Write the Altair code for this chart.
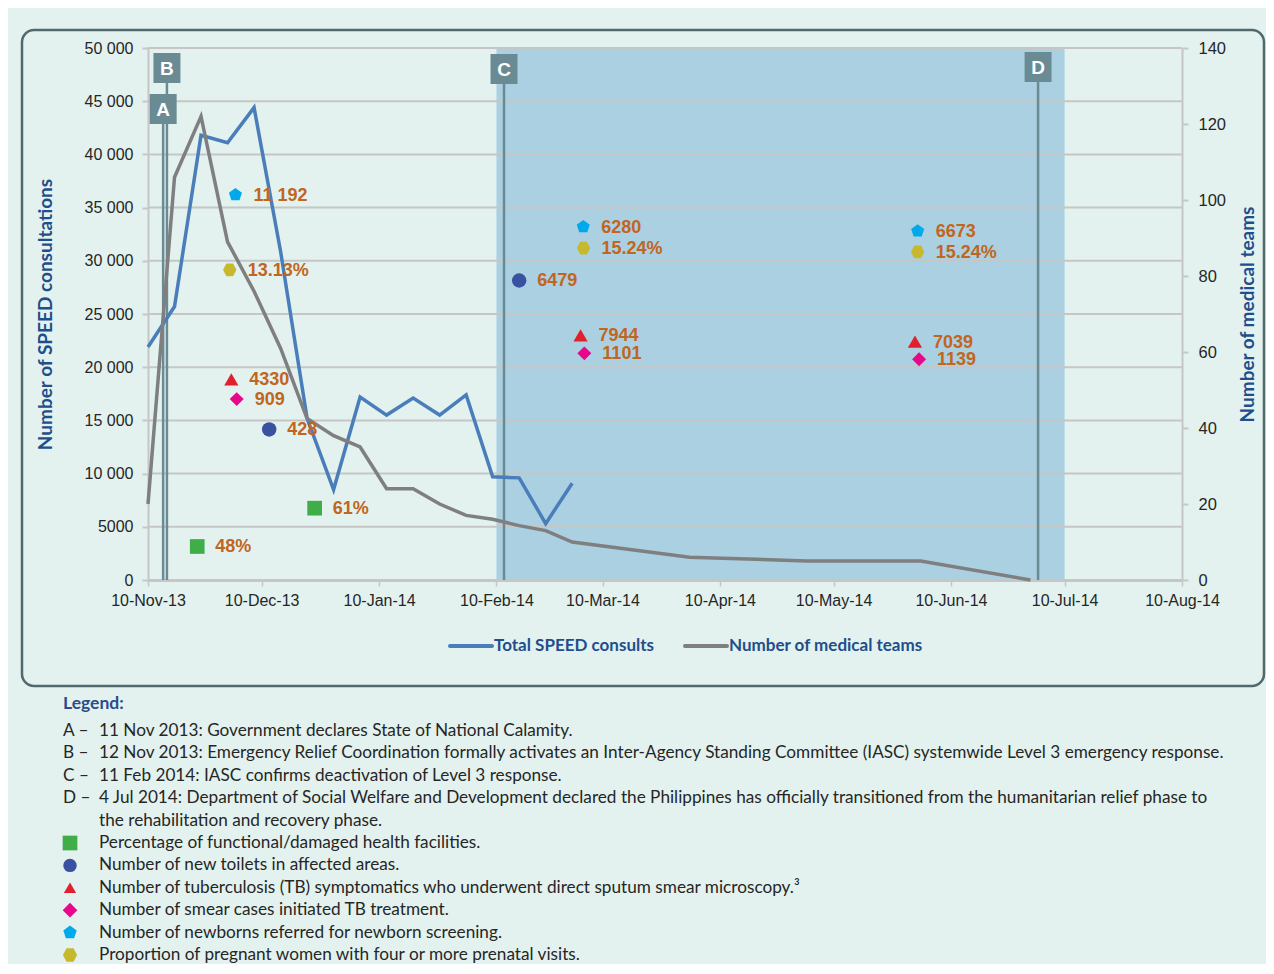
import altair as alt
import pandas as pd

# ------------------------------------------------------------------ data
week_dates = ["2013-11-10", "2013-11-17", "2013-11-24", "2013-12-01", "2013-12-08",
              "2013-12-15", "2013-12-22", "2013-12-29", "2014-01-05", "2014-01-12",
              "2014-01-19", "2014-01-26", "2014-02-02", "2014-02-09", "2014-02-16",
              "2014-02-23", "2014-03-02"]
speed_consults = [21900, 25700, 41800, 41100, 44400, 30900, 15200, 8500, 17200, 15500,
                  17100, 15500, 17400, 9700, 9600, 5300, 9100]

team_dates = week_dates + ["2014-04-02", "2014-05-03", "2014-06-02", "2014-07-01"]
medical_teams = [20, 106, 122, 89, 76, 61, 42.5, 38, 35, 24, 24, 20, 17, 16, 14.3, 13, 10,
                 6, 5, 5, 0]

event_letters = ["A", "B", "C", "D"]
event_dates = ["2013-11-14", "2013-11-15", "2014-02-12", "2014-07-03"]

phase_start = ["2014-02-10"]
phase_end = ["2014-07-10"]

marker_kinds = ["facilities", "facilities", "toilets", "tb_tested", "tb_treated", "newborns", "prenatal",
                "toilets", "tb_tested", "tb_treated", "newborns", "prenatal",
                "tb_tested", "tb_treated", "newborns", "prenatal"]
marker_dates = ["2013-11-23T00", "2013-12-24T00", "2013-12-12T00", "2013-12-02T00", "2013-12-03T10",
                "2013-12-03T02", "2013-12-01T14",
                "2014-02-16T00", "2014-03-04T05", "2014-03-05T05", "2014-03-04T22", "2014-03-05T00",
                "2014-05-31T12", "2014-06-01T14", "2014-06-01T05", "2014-06-01T05"]
marker_values = [3150, 6750, 14150, 18850, 17000, 36200, 29150,
                 28150, 23000, 21300, 33200, 31200,
                 22400, 20750, 32800, 30850]
marker_labels = ["48%", "61%", "428", "4330", "909", "11 192", "13.13%",
                 "6479", "7944", "1101", "6280", "15.24%",
                 "7039", "1139", "6673", "15.24%"]

left_ticks = [0, 5000, 10000, 15000, 20000, 25000, 30000, 35000, 40000, 45000, 50000]
right_ticks = [0, 20, 40, 60, 80, 100, 120, 140]
x_tick_dates = ["2013-11-10", "2013-12-10", "2014-01-10", "2014-02-10", "2014-03-10",
                "2014-04-10", "2014-05-10", "2014-06-10", "2014-07-10", "2014-08-10"]
x_domain = ["2013-11-10", "2014-08-10"]

series_names = ["Total SPEED consults", "Number of medical teams"]
left_title = "Number of SPEED consultations"
right_title = "Number of medical teams"

legend_heading = "Legend:"
legend_keys = ["A –", "B –", "C –", "D –", "", "", "", "", "", "", ""]
legend_symbols = ["", "", "", "", "", "facilities", "toilets", "tb_tested", "tb_treated", "newborns", "prenatal"]
legend_texts = [
    "11 Nov 2013: Government declares State of National Calamity.",
    "12 Nov 2013: Emergency Relief Coordination formally activates an Inter-Agency Standing Committee (IASC) systemwide Level 3 emergency response.",
    "11 Feb 2014: IASC confirms deactivation of Level 3 response.",
    "4 Jul 2014: Department of Social Welfare and Development  declared the Philippines has officially transitioned from the humanitarian relief phase to",
    "the rehabilitation and recovery phase.",
    "Percentage of functional/damaged health facilities.",
    "Number of new toilets in affected areas.",
    "Number of tuberculosis (TB) symptomatics who underwent direct sputum smear microscopy.³",
    "Number of smear cases initiated TB treatment.",
    "Number of newborns referred for newborn screening.",
    "Proportion of pregnant women with four or more prenatal visits.",
]

# ------------------------------------------------------------------ styles
W, H = 1034, 532
BG = "#e3f2ee"
FONT_AX = "Liberation Sans"
FONT_TXT = "Lato"
TITLE_BLUE = "#1f4e8c"
EVENT_COL = "#6a8b93"
SHADE_COL = "#abd0e2"
GRID_COL = "#c6c6c6"
LABEL_COL = "#c0661e"
TEXT_COL = "#262626"

PENTAGON = "M0,-1L0.951,-0.309L0.588,0.809L-0.588,0.809L-0.951,-0.309Z"
HEXAGON = "M-1,0L-0.5,-0.95L0.5,-0.95L1,0L0.5,0.95L-0.5,0.95Z"
BOX = "M-0.9,-1L0.9,-1L0.9,1L-0.9,1Z"

kind_order = ["facilities", "toilets", "tb_tested", "tb_treated", "newborns", "prenatal"]
kind_shapes = ["square", "circle", "triangle-up", "diamond", PENTAGON, HEXAGON]
kind_colors = ["#3fae49", "#3a50a0", "#e0202c", "#e8078a", "#00a9e9", "#c6b92e"]
kind_sizes = [216, 180, 150, 215, 196, 200]


def iso(d):
    if len(d) == 10:
        return d + "T00:00:00Z"
    return d + ":00:00Z"


def dt(d):
    y, m, dd = (int(v) for v in d[:10].split("-"))
    return alt.DateTime(year=y, month=m, date=dd, utc=True)


def left_scale():
    return alt.Scale(domain=[0, 50000], nice=False, zero=True)


x_scale = alt.Scale(type="utc", domain=[dt(d) for d in x_domain], nice=False)
y_right = alt.Scale(domain=[0, 140], nice=False, zero=True)

speed_df = pd.DataFrame({"date": [iso(d) for d in week_dates], "consults": speed_consults})
teams_df = pd.DataFrame({"date": [iso(d) for d in team_dates], "teams": medical_teams})
event_df = pd.DataFrame({"date": [iso(d) for d in event_dates], "letter": event_letters})
phase_df = pd.DataFrame({"start": [iso(d) for d in phase_start], "end": [iso(d) for d in phase_end]})
marker_df = pd.DataFrame({"date": [iso(d) for d in marker_dates], "value": marker_values,
                          "label": marker_labels, "kind": marker_kinds})
grid_df = pd.DataFrame({"tick": left_ticks})
one = pd.DataFrame({"k": [0]})

left_axis = alt.Axis(
    orient="left", values=left_ticks,
    labelExpr="datum.value >= 10000 ? replace(format(datum.value, ','), ',', ' ') : format(datum.value, 'd')",
    title=left_title, grid=False,
    domainColor=GRID_COL, domainWidth=2, tickColor=GRID_COL, tickWidth=2, tickSize=6,
    labelFont=FONT_AX, labelFontSize=16, labelColor=TEXT_COL, labelPadding=9,
    titleFont=FONT_TXT, titleFontSize=19, titleFontWeight="bold", titleColor=TITLE_BLUE,
    titleAngle=270, titleX=-103, titleY=266, titleAlign="center", titleBaseline="middle",
)
right_axis = alt.Axis(
    orient="right", values=right_ticks, title=right_title, grid=False,
    domainColor=GRID_COL, domainWidth=2, tickColor=GRID_COL, tickWidth=2, tickSize=6,
    labelFont=FONT_AX, labelFontSize=16.5, labelColor=TEXT_COL, labelPadding=10,
    titleFont=FONT_TXT, titleFontSize=19, titleFontWeight="bold", titleColor=TITLE_BLUE,
    titleAngle=270, titleX=65, titleY=266, titleAlign="center", titleBaseline="middle",
)
# the same x axis definition is given to every layer so that the shared axis merges cleanly
x_axis = alt.Axis(
    orient="bottom", values=[dt(d) for d in x_tick_dates], format="%d-%b-%y", title=None, grid=False,
    domainColor=GRID_COL, domainWidth=3, tickColor=GRID_COL, tickWidth=1.5, tickSize=6,
    labelFont=FONT_AX, labelFontSize=16, labelColor=TEXT_COL, labelPadding=6,
    labelFlush=False, labelOverlap=False, labelBound=False,
)


def X(field):
    return alt.X(f"{field}:T", scale=x_scale, axis=x_axis)


layers = []

# panel border
layers.append(alt.Chart(one).mark_rect(
    fillOpacity=0, stroke="#51696e", strokeWidth=2.5, cornerRadius=12
).encode(x=alt.value(-126), x2=alt.value(1116), y=alt.value(-18), y2=alt.value(638)))

# shaded phase
layers.append(alt.Chart(phase_df).mark_rect(color=SHADE_COL, opacity=1).encode(
    x=X("start"), x2="end:T"))

# gridlines + left axis
layers.append(alt.Chart(grid_df).mark_rule(color=GRID_COL, strokeWidth=2).encode(
    y=alt.Y("tick:Q", scale=left_scale(), axis=left_axis)))

# event rules
box_y = {"A": 61, "B": 20, "C": 21, "D": 19}
for letter in event_letters:
    base = alt.Chart(event_df).transform_filter(alt.datum.letter == letter)
    layers.append(base.mark_rule(color=EVENT_COL, strokeWidth=2.5).encode(
        x=X("date"), y=alt.value(box_y[letter]), y2=alt.value(H)))

# total SPEED consults (left axis)
layers.append(alt.Chart(speed_df).mark_line(color="#4a7ebb", strokeWidth=3.5).encode(
    x=X("date"), y=alt.Y("consults:Q", scale=left_scale(), axis=None)))

# medical teams (right axis)
layers.append(alt.Chart(teams_df).mark_line(color="#7f7f7f", strokeWidth=3.5).encode(
    x=X("date"), y=alt.Y("teams:Q", scale=y_right, axis=right_axis)))

# event boxes
for letter in event_letters:
    base = alt.Chart(event_df).transform_filter(alt.datum.letter == letter)
    layers.append(base.mark_point(shape=BOX, filled=True, opacity=1, size=900, color=EVENT_COL).encode(
        x=X("date"), y=alt.value(box_y[letter])))
    layers.append(base.mark_text(font=FONT_AX, fontSize=19, fontWeight="bold", color="white",
                                 align="center", baseline="middle", dy=1).encode(
        x=X("date"), y=alt.value(box_y[letter]), text="letter:N"))

# indicator markers and labels
layers.append(alt.Chart(marker_df).mark_point(filled=True, opacity=1).encode(
    x=X("date"),
    y=alt.Y("value:Q", scale=left_scale(), axis=None),
    shape=alt.Shape("kind:N", scale=alt.Scale(domain=kind_order, range=kind_shapes), legend=None),
    color=alt.Color("kind:N", scale=alt.Scale(domain=kind_order, range=kind_colors), legend=None),
    size=alt.Size("kind:O", scale=alt.Scale(domain=kind_order, range=kind_sizes), legend=None),
))
layers.append(alt.Chart(marker_df).mark_text(
    align="left", baseline="middle", dx=18, dy=1, font=FONT_AX, fontSize=18,
    fontWeight="bold", color=LABEL_COL
).encode(x=X("date"), y=alt.Y("value:Q", scale=left_scale(), axis=None), text="label:N"))

# series legend
series_cols = ["#4a7ebb", "#7f7f7f"]
series_x = [302, 537]
for name, col, sx in zip(series_names, series_cols, series_x):
    layers.append(alt.Chart(one).mark_rule(color=col, strokeWidth=4, strokeCap="round").encode(
        x=alt.value(sx), x2=alt.value(sx + 42), y=alt.value(598)))
    layers.append(alt.Chart(one).mark_text(
        align="left", baseline="middle", font=FONT_TXT, fontSize=17, fontWeight="bold", color=TITLE_BLUE
    ).encode(x=alt.value(sx + 44), y=alt.value(598), text=alt.value(name)))

# text legend below the chart
layers.append(alt.Chart(one).mark_text(
    align="left", baseline="middle", font=FONT_TXT, fontSize=17.5, fontWeight="bold", color="#2a4d8c"
).encode(x=alt.value(-85), y=alt.value(656), text=alt.value(legend_heading)))
for i, (key, sym, txt) in enumerate(zip(legend_keys, legend_symbols, legend_texts)):
    ry = 683 + i * 22.4
    if key:
        layers.append(alt.Chart(one).mark_text(
            align="left", baseline="middle", font=FONT_TXT, fontSize=17.2, color=TEXT_COL
        ).encode(x=alt.value(-85), y=alt.value(ry), text=alt.value(key)))
    if sym:
        k = kind_order.index(sym)
        layers.append(alt.Chart(one).mark_point(
            shape=kind_shapes[k], filled=True, opacity=1, color=kind_colors[k], size=kind_sizes[k]
        ).encode(x=alt.value(-78), y=alt.value(ry)))
    layers.append(alt.Chart(one).mark_text(
        align="left", baseline="middle", font=FONT_TXT, fontSize=17.2, color=TEXT_COL
    ).encode(x=alt.value(-49), y=alt.value(ry), text=alt.value(txt)))

chart = alt.layer(*layers).resolve_scale(y="independent").properties(
    width=W, height=H,
    padding={"left": 140, "top": 40, "right": 84, "bottom": 384},
    autosize=alt.AutoSizeParams(type="none"),
    background=BG,
).configure_view(strokeWidth=0)

chart.save("out.html", embed_options={"renderer": "svg", "actions": False})
